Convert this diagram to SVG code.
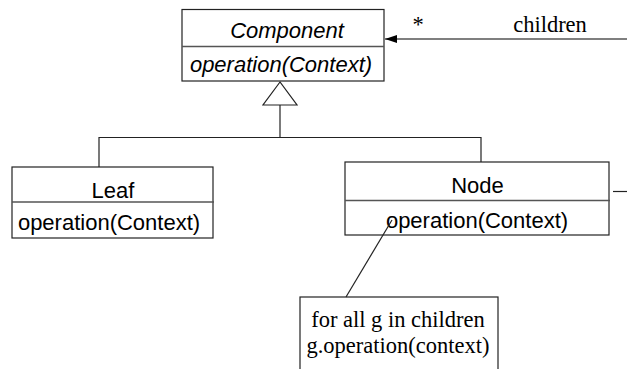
<svg xmlns="http://www.w3.org/2000/svg" width="627" height="369" viewBox="0 0 627 369">
<style>
.box{fill:#fff;stroke:#222;stroke-width:1.2}
.div{stroke:#555;stroke-width:1.5;fill:none}
.ln{stroke:#222;stroke-width:1.2;fill:none}
.sans{font-family:"Liberation Sans",Arial,sans-serif;font-size:22px;fill:#000;text-anchor:middle}
.it{font-style:italic}
.serif{font-family:"Liberation Serif","Times New Roman",serif;font-size:22.5px;fill:#000;text-anchor:middle}
</style>
<defs>
<marker id="ah" viewBox="0 0 12 8" refX="12" refY="4" markerWidth="12" markerHeight="8" markerUnits="userSpaceOnUse" orient="auto">
<path d="M0,0 L12,4 L0,8 Z" fill="#000"/>
</marker>
</defs>
<g id="component">
<rect class="box" x="182" y="9.5" width="202" height="71.5"/>
<line class="div" x1="182" y1="46.5" x2="384" y2="46.5"/>
<text class="sans it" x="287" y="38">Component</text>
<text class="sans it" x="281" y="72">operation(Context)</text>
</g>
<g id="leaf">
<rect class="box" x="12" y="167" width="201" height="71"/>
<line class="div" x1="12" y1="202" x2="214" y2="202"/>
<text class="sans" x="113" y="197.5">Leaf</text>
<text class="sans" x="109" y="230">operation(Context)</text>
</g>
<g id="node">
<rect class="box" x="345" y="162" width="264" height="73"/>
<line class="div" x1="345" y1="200.5" x2="610" y2="200.5"/>
<text class="sans" x="477.5" y="193">Node</text>
<text class="sans" x="477" y="228">operation(Context)</text>
</g>
<g id="note">
<rect class="box" x="300" y="297" width="198" height="80"/>
<text class="serif" x="398" y="327">for all g in children</text>
<text class="serif" x="398" y="353">g.operation(context)</text>
</g>
<g id="connectors">
<line class="div" x1="627" y1="39" x2="385" y2="39" marker-end="url(#ah)"/>
<text class="serif" x="418" y="32">*</text>
<text class="serif" x="550" y="32">children</text>
<polygon points="280,82 263,105 297,105" fill="#fff" stroke="#222" stroke-width="1.2"/>
<polyline class="ln" points="280,105 280,137.5"/>
<polyline class="ln" points="99,167 99,137.5 481,137.5 481,162"/>
<line class="ln" x1="613" y1="191.5" x2="627" y2="191.5"/>
<line class="ln" x1="392" y1="220" x2="346" y2="297"/>
</g>
</svg>
